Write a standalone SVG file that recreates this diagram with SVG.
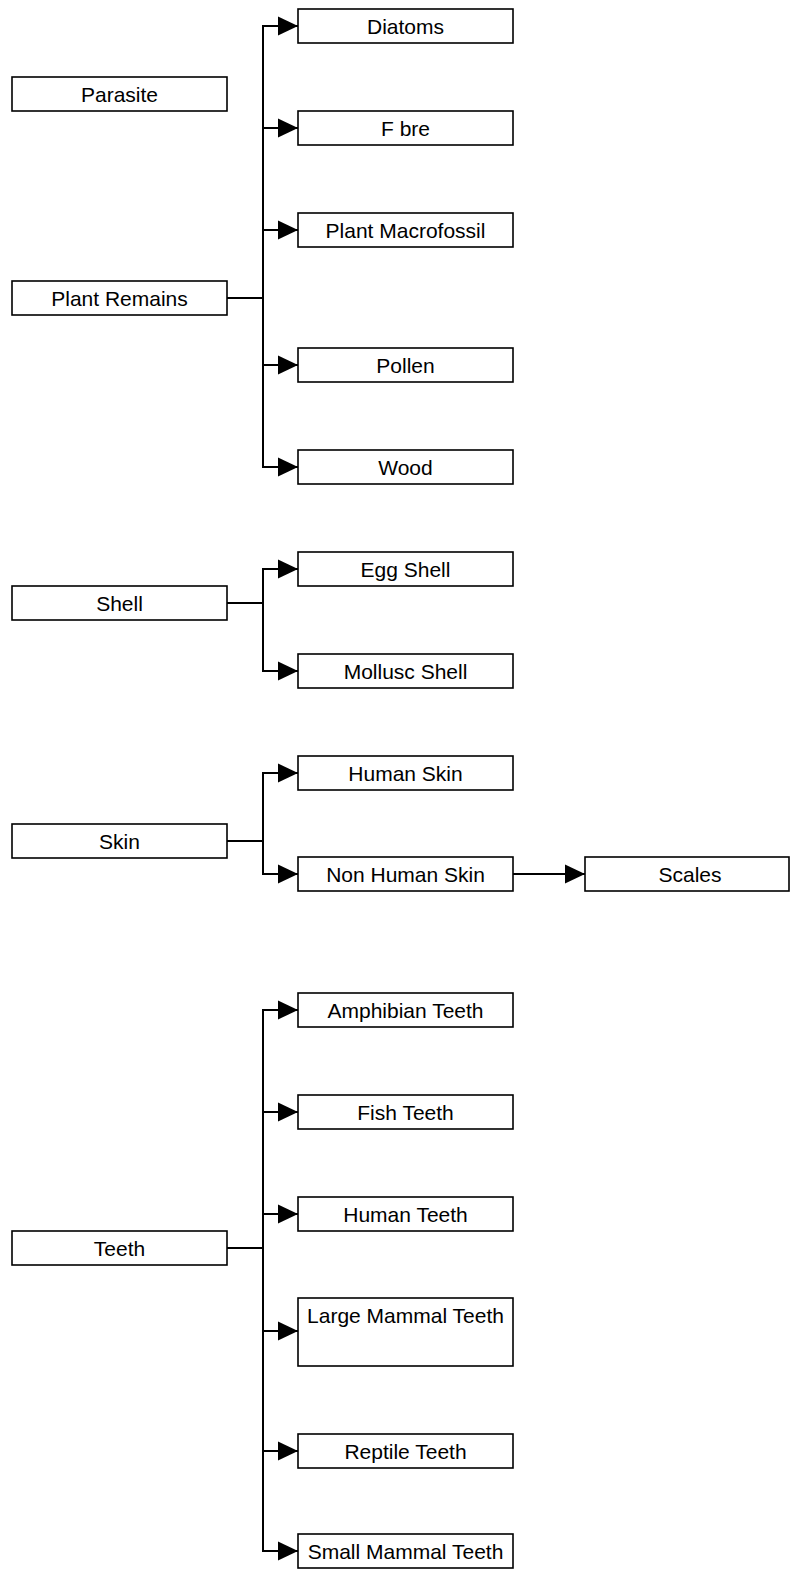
<svg xmlns="http://www.w3.org/2000/svg" width="791" height="1569" viewBox="0 0 791 1569">
  <style>
    .box { fill: #ffffff; stroke: #000000; stroke-width: 1.6; }
    .lbl { font-family: "Liberation Sans", Arial, sans-serif; font-size: 21px; fill: #000000; text-anchor: middle; }
    .link { fill: none; stroke: #000000; stroke-width: 2; marker-end: url(#arrow); }
    .plain { fill: none; stroke: #000000; stroke-width: 2; }
  </style>
  <defs>
    <marker id="arrow" viewBox="0 0 20 20" markerWidth="20" markerHeight="20" refX="20" refY="10" orient="auto" markerUnits="userSpaceOnUse">
      <path d="M0,0.5 L20,10 L0,19.5 Z" fill="#000000"/>
    </marker>
  </defs>
  <rect width="791" height="1569" fill="#ffffff"/>

  <!-- connectors -->
  <g id="connectors">
    <!-- Plant Remains branches -->
    <path class="plain" d="M227,298 H263"/>
    <path class="link" d="M263,298 V26 H298"/>
    <path class="link" d="M263,128 H298"/>
    <path class="link" d="M263,230 H298"/>
    <path class="link" d="M263,365 H298"/>
    <path class="link" d="M263,298 V467 H298"/>
    <!-- Shell branches -->
    <path class="plain" d="M227,603 H263"/>
    <path class="link" d="M263,603 V569 H298"/>
    <path class="link" d="M263,603 V671 H298"/>
    <!-- Skin branches -->
    <path class="plain" d="M227,841 H263"/>
    <path class="link" d="M263,841 V773 H298"/>
    <path class="link" d="M263,841 V874 H298"/>
    <path class="link" d="M513,874 H585"/>
    <!-- Teeth branches -->
    <path class="plain" d="M227,1248 H263"/>
    <path class="link" d="M263,1248 V1010 H298"/>
    <path class="link" d="M263,1112 H298"/>
    <path class="link" d="M263,1214 H298"/>
    <path class="link" d="M263,1331 H298"/>
    <path class="link" d="M263,1451 H298"/>
    <path class="link" d="M263,1248 V1551 H298"/>
  </g>

  <!-- top-level categories -->
  <g id="parasite"><rect class="box" x="12" y="77" width="215" height="34"/><text class="lbl" x="119.5" y="101.5">Parasite</text></g>
  <g id="plant-remains"><rect class="box" x="12" y="281" width="215" height="34"/><text class="lbl" x="119.5" y="305.5">Plant Remains</text></g>
  <g id="shell"><rect class="box" x="12" y="586" width="215" height="34"/><text class="lbl" x="119.5" y="610.5">Shell</text></g>
  <g id="skin"><rect class="box" x="12" y="824" width="215" height="34"/><text class="lbl" x="119.5" y="848.5">Skin</text></g>
  <g id="teeth"><rect class="box" x="12" y="1231" width="215" height="34"/><text class="lbl" x="119.5" y="1255.5">Teeth</text></g>

  <!-- plant remains -->
  <g id="diatoms"><rect class="box" x="298" y="9" width="215" height="34"/><text class="lbl" x="405.5" y="33.5">Diatoms</text></g>
  <g id="fibre"><rect class="box" x="298" y="111" width="215" height="34"/><text class="lbl" x="405.5" y="135.5">F bre</text></g>
  <g id="plant-macrofossil"><rect class="box" x="298" y="213" width="215" height="34"/><text class="lbl" x="405.5" y="237.5">Plant Macrofossil</text></g>
  <g id="pollen"><rect class="box" x="298" y="348" width="215" height="34"/><text class="lbl" x="405.5" y="372.5">Pollen</text></g>
  <g id="wood"><rect class="box" x="298" y="450" width="215" height="34"/><text class="lbl" x="405.5" y="474.5">Wood</text></g>

  <!-- shell -->
  <g id="egg-shell"><rect class="box" x="298" y="552" width="215" height="34"/><text class="lbl" x="405.5" y="576.5">Egg Shell</text></g>
  <g id="mollusc-shell"><rect class="box" x="298" y="654" width="215" height="34"/><text class="lbl" x="405.5" y="678.5">Mollusc Shell</text></g>

  <!-- skin -->
  <g id="human-skin"><rect class="box" x="298" y="756" width="215" height="34"/><text class="lbl" x="405.5" y="780.5">Human Skin</text></g>
  <g id="non-human-skin"><rect class="box" x="298" y="857" width="215" height="34"/><text class="lbl" x="405.5" y="881.5">Non Human Skin</text></g>
  <g id="scales"><rect class="box" x="585" y="857" width="204" height="34"/><text class="lbl" x="690" y="881.5">Scales</text></g>

  <!-- teeth -->
  <g id="amphibian-teeth"><rect class="box" x="298" y="993" width="215" height="34"/><text class="lbl" x="405.5" y="1017.5">Amphibian Teeth</text></g>
  <g id="fish-teeth"><rect class="box" x="298" y="1095" width="215" height="34"/><text class="lbl" x="405.5" y="1119.5">Fish Teeth</text></g>
  <g id="human-teeth"><rect class="box" x="298" y="1197" width="215" height="34"/><text class="lbl" x="405.5" y="1221.5">Human Teeth</text></g>
  <g id="large-mammal-teeth"><rect class="box" x="298" y="1298" width="215" height="68"/><text class="lbl" x="405.5" y="1323">Large Mammal Teeth</text></g>
  <g id="reptile-teeth"><rect class="box" x="298" y="1434" width="215" height="34"/><text class="lbl" x="405.5" y="1458.5">Reptile Teeth</text></g>
  <g id="small-mammal-teeth"><rect class="box" x="298" y="1534" width="215" height="34"/><text class="lbl" x="405.5" y="1558.5">Small Mammal Teeth</text></g>
</svg>
